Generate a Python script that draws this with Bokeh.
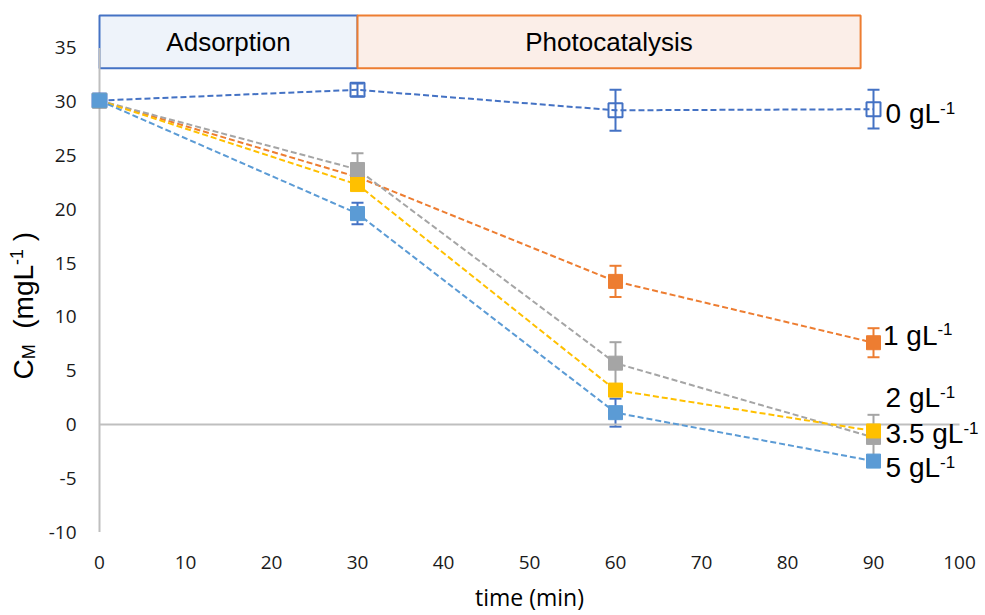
from math import pi

from bokeh.core.properties import value
from bokeh.embed import file_html
from bokeh.models import ColumnDataSource, Label, Range1d, TeeHead, Whisker
from bokeh.plotting import figure
from bokeh.resources import INLINE

# ---- data -----------------------------------------------------------------
time_min = [0, 30, 60, 90]

conc_0 = [30.1, 31.1, 29.2, 29.3]
conc_1 = [30.1, 23.0, 13.3, 7.6]
conc_2 = [30.1, 23.7, 5.7, -1.2]
conc_35 = [30.1, 22.3, 3.2, -0.6]
conc_5 = [30.1, 19.6, 1.1, -3.4]

err_0 = [0.0, 0.6, 1.9, 1.8]
err_1 = [0.0, 0.5, 1.45, 1.35]
err_2 = [0.0, 1.5, 1.95, 2.1]
err_35 = [0.0, 0.4, 0.4, 0.4]
err_5 = [0.0, 1.0, 1.3, 0.4]

dose_labels = ["0 gL", "1 gL", "2 gL", "3.5 gL", "5 gL"]

phase_names = ["Adsorption", "Photocatalysis"]
phase_start = [0, 30]
phase_end = [30, 88.5]
phase_bottom = [33.1, 33.1]
phase_top = [38.0, 38.0]

x_ticks = list(range(0, 101, 10))
y_ticks = list(range(-10, 36, 5))

# ---- styling ----------------------------------------------------------------
BLUE_DARK = "#4472C4"
ORANGE = "#ED7D31"
GREY = "#A5A5A5"
GOLD = "#FFC000"
BLUE = "#5B9BD5"
AXIS_GREY = "#BFBFBF"

W, H = 985, 615
ORIGIN_X, ORIGIN_Y = 99, 424   # pixel position of (0, 0)
PX_X = 8.6                     # pixels per minute
PX_Y = 10.76                   # pixels per mg/L

TEXT_FONT = "Liberation Sans"
TICK_FONT = "Open Sans"

# advance widths (em) for the label font, used to chain text pieces
ADV = {"0": .556, "1": .556, "2": .556, "3": .556, "5": .556, ".": .278,
       " ": .278, "g": .556, "L": .556, "C": .722, "M": .833, "(": .333,
       ")": .333, "m": .833, "-": .333}


def text_width(s, size):
    return sum(ADV.get(ch, .556) for ch in s) * size


def dx(px):
    """horizontal pixel distance -> minutes"""
    return px / PX_X


def dy(px):
    """vertical pixel distance -> mg/L"""
    return px / PX_Y


series = [
    dict(y=conc_0, e=err_0, color=BLUE_DARK, ecolor=BLUE_DARK, fill=None, label=dose_labels[0],
         lx=91.4, lc=28.9),
    dict(y=conc_1, e=err_1, color=ORANGE, ecolor=ORANGE, fill=ORANGE, label=dose_labels[1],
         lx=91.1, lc=8.3),
    dict(y=conc_2, e=err_2, color=GREY, ecolor=GREY, fill=GREY, label=dose_labels[2],
         lx=91.4, lc=2.5),
    dict(y=conc_35, e=err_35, color=GOLD, ecolor=GOLD, fill=GOLD, label=dose_labels[3],
         lx=91.4, lc=-0.85),
    dict(y=conc_5, e=err_5, color=BLUE, ecolor=BLUE_DARK, fill=BLUE, label=dose_labels[4],
         lx=91.4, lc=-4.0),
]

# the frame covers the whole canvas; axis texts are laid out in data space
p = figure(width=W, height=H,
           x_range=Range1d(-dx(ORIGIN_X), dx(W - ORIGIN_X)),
           y_range=Range1d(-dy(H - ORIGIN_Y), dy(ORIGIN_Y)),
           x_axis_type=None, y_axis_type=None,
           output_backend="svg", toolbar_location=None,
           min_border=0)
p.outline_line_color = None
p.grid.visible = False
p.background_fill_color = "white"
p.border_fill_color = "white"

# phase boxes
phase_src = ColumnDataSource(dict(
    left=phase_start, right=phase_end, bottom=phase_bottom, top=phase_top,
    name=phase_names,
    fill=["#EEF3FA", "#FBEEE8"], line=[BLUE_DARK, ORANGE],
    cx=[(a + b) / 2 for a, b in zip(phase_start, phase_end)],
    cy=[(b + t) / 2 for b, t in zip(phase_bottom, phase_top)],
))
p.quad(left="left", right="right", bottom="bottom", top="top", source=phase_src,
       fill_color="fill", line_color="line", line_width=2)
p.text(x="cx", y="cy", text="name", source=phase_src,
       text_font=value(TEXT_FONT), text_font_size="26px", text_color="black",
       text_align="center", text_baseline="middle")

# axis lines: vertical at t = 0 and horizontal at C = 0
p.segment(x0=[0], y0=[min(y_ticks)], x1=[0], y1=[max(y_ticks)],
          line_color=AXIS_GREY, line_width=2)
p.segment(x0=[min(x_ticks)], y0=[0], x1=[max(x_ticks)], y1=[0],
          line_color=AXIS_GREY, line_width=2)

# tick labels
p.text(x=[-dx(23)] * len(y_ticks), y=y_ticks, text=[str(v) for v in y_ticks],
       text_font=value(TICK_FONT), text_font_size="19px", text_color="#1A1A1A",
       text_align="right", text_baseline="middle")
p.text(x=x_ticks, y=[min(y_ticks) - dy(30)] * len(x_ticks), text=[str(v) for v in x_ticks],
       text_font=value(TICK_FONT), text_font_size="19px", text_color="#1A1A1A",
       text_align="center", text_baseline="middle")

# x axis title
p.add_layout(Label(x=(min(x_ticks) + max(x_ticks)) / 2, y=min(y_ticks) - dy(65),
                   text="time (min)",
                   text_font=TICK_FONT, text_font_size="23px", text_color="black",
                   text_align="center", text_baseline="middle"))

# y axis title: C_M (mgL^-1 ), rotated, built from pieces (text, size, shift px, gap px)
pieces = [("C", 28, 0, 0), ("M", 18, 6, 2 * .278 * 28), ("(mgL", 28, 0, 0),
          ("-1", 18, -7, .278 * 28), (")", 28, 0, 0)]
ypos = dy(ORIGIN_Y - 379)
xtitle = -dx(ORIGIN_X - 22.5)
for txt, size, shift, gap in pieces:
    p.add_layout(Label(x=xtitle, y=ypos, text=txt, angle=pi / 2, x_offset=shift,
                       text_font=TEXT_FONT, text_font_size=f"{size}px", text_color="black",
                       text_align="left", text_baseline="middle"))
    ypos += dy(text_width(txt, size) + gap)

# error bars
for s in series:
    keep = [i for i, e in enumerate(s["e"]) if e > 0]
    src = ColumnDataSource(dict(
        base=[time_min[i] for i in keep],
        upper=[s["y"][i] + s["e"][i] for i in keep],
        lower=[s["y"][i] - s["e"][i] for i in keep],
    ))
    p.add_layout(Whisker(source=src, base="base", upper="upper", lower="lower",
                         line_color=s["ecolor"], line_width=2,
                         upper_head=TeeHead(size=12, line_color=s["ecolor"], line_width=2),
                         lower_head=TeeHead(size=12, line_color=s["ecolor"], line_width=2)))

# dashed series with square markers
for s in series:
    p.line(time_min, s["y"], line_color=s["color"], line_width=2, line_dash="6 3")
for s in series:
    if s["fill"] is None:
        p.scatter(time_min, s["y"], marker="square", size=14,
                  fill_color=None, line_color=s["color"], line_width=2)
    else:
        p.scatter(time_min, s["y"], marker="square", size=14,
                  fill_color=s["fill"], line_color=s["fill"], line_width=1)

# series labels with superscript exponent
for s in series:
    p.add_layout(Label(x=s["lx"], y=s["lc"], text=s["label"],
                       text_font=TEXT_FONT, text_font_size="28px", text_color="black",
                       text_align="left", text_baseline="middle"))
    p.add_layout(Label(x=s["lx"], y=s["lc"] + dy(6), text="-1",
                       x_offset=text_width(s["label"], 28),
                       text_font=TEXT_FONT, text_font_size="17px", text_color="black",
                       text_align="left", text_baseline="middle"))

open("out.html", "w").write(file_html(p, INLINE))
